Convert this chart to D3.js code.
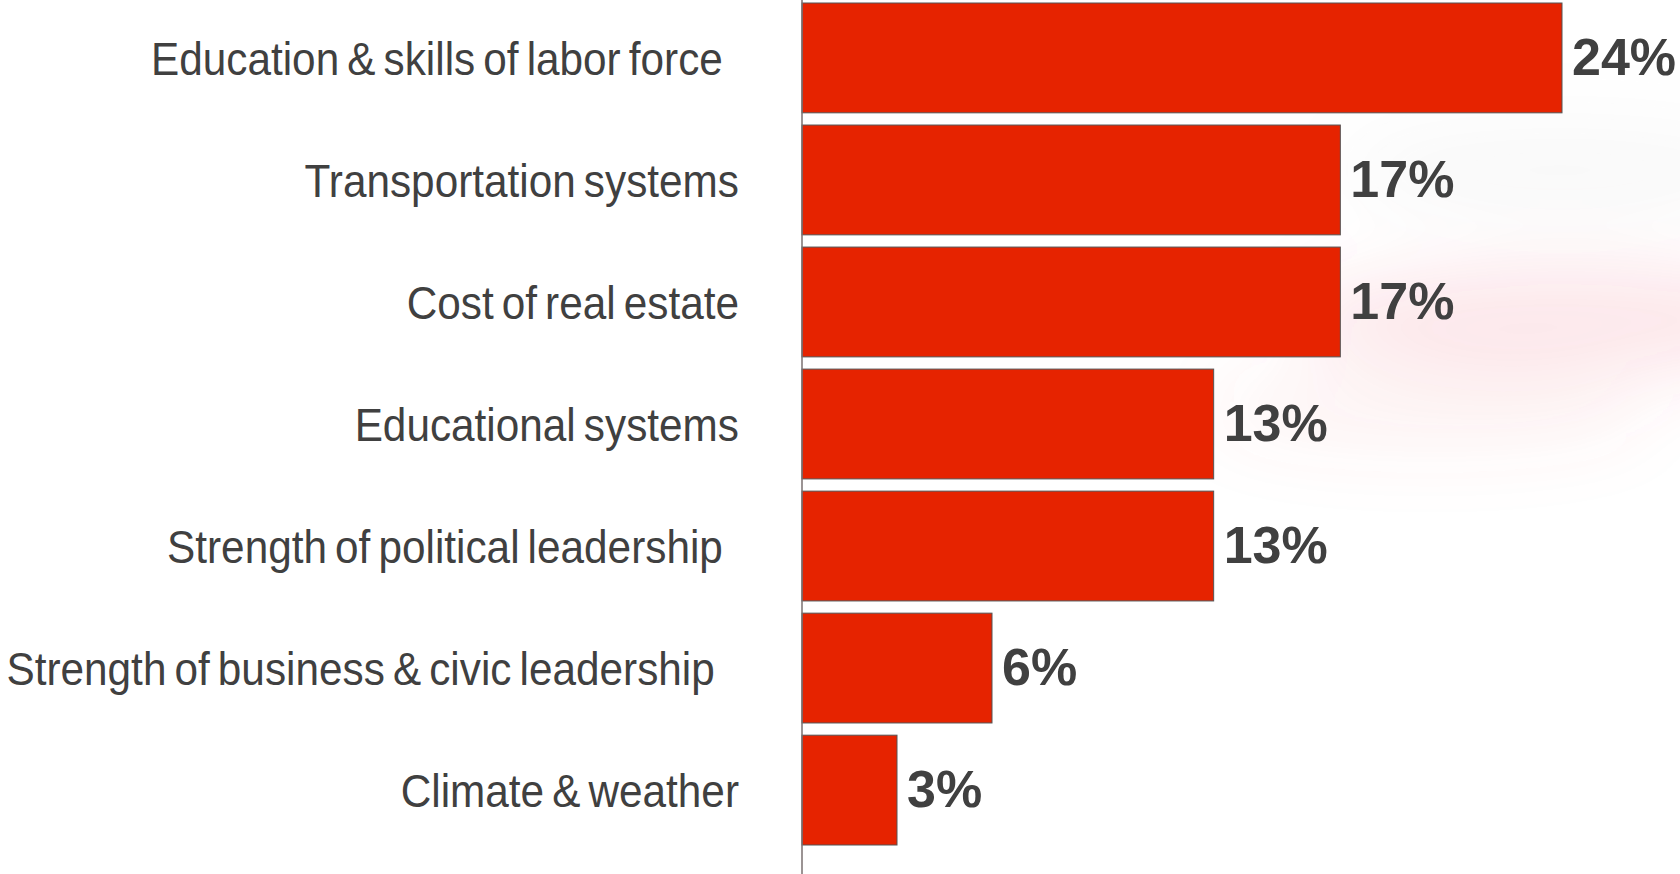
<!DOCTYPE html>
<html>
<head>
<meta charset="utf-8">
<script src="https://cdn.jsdelivr.net/npm/d3@7"></script>
<style>
  html, body { margin: 0; padding: 0; background: #fff; overflow: hidden; }
  .cat-label { font-family: "Liberation Sans", Arial, sans-serif; font-size: 46px; fill: #404040; white-space: pre; word-spacing: -4px; }
  .val-label { font-family: "Liberation Sans", Arial, sans-serif; font-size: 52px; font-weight: bold; fill: #404040; }
</style>
</head>
<body>
<div id="chart"></div>
<script>
const categories = [
  "Education & skills of labor force  ",
  "Transportation systems",
  "Cost of real estate",
  "Educational systems",
  "Strength of political leadership  ",
  "Strength of business & civic leadership   ",
  "Climate & weather"
]
const values = [24, 17, 17, 13, 13, 6, 3]
const valueLabels = ["24%", "17%", "17%", "13%", "13%", "6%", "3%"]

const width = 1680
const height = 874
const margin = {top: 3, bottom: 29, left: 802, right: 118}

const svg = d3.select('#chart')
  .append('svg')
  .attr('width', width)
  .attr('height', height)

// faint pinkish smear in the background, top right
const defs = svg.append('defs')
defs.append('filter').attr('id', 'blur')
  .attr('x', '-50%').attr('y', '-50%').attr('width', '200%').attr('height', '200%')
  .append('feGaussianBlur').attr('stdDeviation', 35)

const bg = svg.append('g').attr('filter', 'url(#blur)')
bg.append('ellipse')
  .attr('cx', 1570).attr('cy', 320).attr('rx', 280).attr('ry', 55)
  .attr('fill', '#e8505a').attr('opacity', 0.13)
bg.append('ellipse')
  .attr('cx', 1430).attr('cy', 410).attr('rx', 220).attr('ry', 40)
  .attr('fill', '#e8505a').attr('opacity', 0.07)
bg.append('ellipse')
  .attr('cx', 1560).attr('cy', 170).attr('rx', 220).attr('ry', 45)
  .attr('fill', '#999').attr('opacity', 0.07)

const xScale = d3.scaleLinear()
  .domain([0, 24])
  .range([margin.left, 1562])

const yScale = d3.scaleBand()
  .domain(categories)
  .range([margin.top, height - margin.bottom])
  .paddingInner(0.1)
  .paddingOuter(0)

const graph = svg.append('g')

graph.selectAll('rect')
  .data(values)
  .enter()
  .append('rect')
  .attr('x', xScale(0))
  .attr('y', (d, i) => yScale(categories[i]))
  .attr('width', d => xScale(d) - xScale(0))
  .attr('height', yScale.bandwidth())
  .attr('fill', '#e62300')
  .attr('stroke', '#555')
  .attr('stroke-width', 1)

// vertical axis line
svg.append('line')
  .attr('x1', xScale(0)).attr('x2', xScale(0))
  .attr('y1', 0).attr('y2', height)
  .attr('stroke', '#7a7070')
  .attr('stroke-width', 1.5)

// category labels, right aligned and slightly condensed
svg.append('g').selectAll('text')
  .data(categories)
  .enter()
  .append('text')
  .attr('class', 'cat-label')
  .attr('text-anchor', 'end')
  .attr('transform', d => `translate(739,${yScale(d) + yScale.bandwidth() / 2 + 17}) scale(0.92,1)`)
  .text(d => d)

// value labels
svg.append('g').selectAll('text')
  .data(values)
  .enter()
  .append('text')
  .attr('class', 'val-label')
  .attr('x', d => xScale(d) + 10)
  .attr('y', (d, i) => yScale(categories[i]) + yScale.bandwidth() / 2 + 17)
  .text((d, i) => valueLabels[i])
</script>
</body>
</html>
